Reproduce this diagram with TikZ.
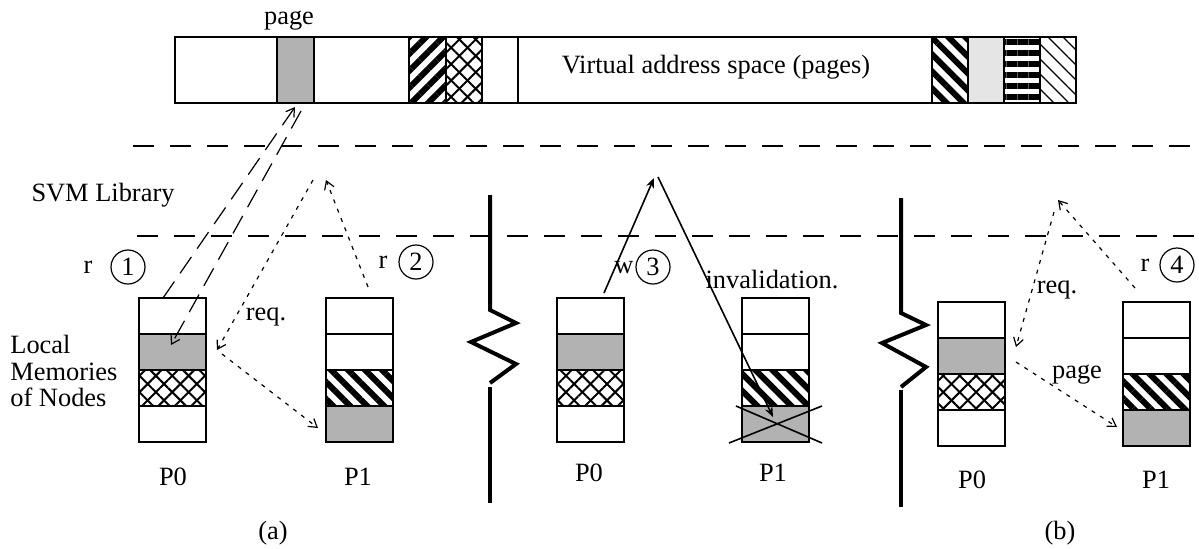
\documentclass[tikz,border=0pt]{standalone}
\usepackage{fontspec}
\setmainfont{Liberation Serif}
\usetikzlibrary{patterns.meta,arrows.meta}
\definecolor{pgray}{gray}{0.70}
\definecolor{lgray}{gray}{0.90}
\tikzset{
  blank/.style={},
  grayc/.style={fill=pgray},
  lgrayc/.style={fill=lgray},
  xhatch/.style={pattern={Lines[angle=45,distance=5.8pt,line width=1pt]},
     postaction={pattern={Lines[angle=-45,distance=5.8pt,line width=1pt]}}},
  thickne/.style={pattern={Lines[angle=45,distance=6pt,line width=3pt]}},
  thicknw/.style={pattern={Lines[angle=-45,distance=6pt,line width=3pt]}},
  hstripes/.style={pattern={Lines[angle=0,distance=5.5pt,line width=2.6pt]}},
  thinnw/.style={pattern={Lines[angle=-45,distance=5.3pt,line width=0.6pt]}},
  box/.style={draw,line width=0.6pt},
  hdash/.style={line width=0.7pt,dash pattern=on 10.5pt off 8pt},
  longdash/.style={line width=0.6pt,dash pattern=on 10pt off 5pt,-{Straight Barb[length=4pt,width=5pt]}},
  dotarrow/.style={line width=0.6pt,dash pattern=on 2pt off 3pt,-{Straight Barb[length=4pt,width=5pt]}},
  solidarrow/.style={line width=0.8pt,-{Stealth[length=5pt,width=4pt]}},
  zig/.style={line width=2pt},
  lbl/.style={inner sep=0pt},
  num/.style={draw,circle,line width=0.6pt,minimum size=17pt,inner sep=0pt},
}
\newcommand\memcol[7]{%
  \path[#4] (#2,#3) rectangle ++(67,36);
  \path[#5] (#2,#3+36) rectangle ++(67,36);
  \path[#6] (#2,#3+72) rectangle ++(67,36);
  \path[#7] (#2,#3+108) rectangle ++(67,36);
  \coordinate (#1) at (#2,#3);
  \draw[box] (#2,#3) rectangle ++(67,144);
  \draw[box] (#2,#3+36) -- ++(67,0) (#2,#3+72) -- ++(67,0) (#2,#3+108) -- ++(67,0);
}
\begin{document}
\begin{tikzpicture}[x=0.5pt,y=-0.5pt,font=\fontsize{13.2}{13.25}\selectfont]
\useasboundingbox (0,0) rectangle (1199,548);
% virtual address space bar
\path[grayc] (277,37) rectangle (314,103);
\path[thickne] (409,37) rectangle (446,103);
\path[xhatch] (446,37) rectangle (482,103);
\path[thicknw] (932,37) rectangle (968,103);
\path[lgrayc] (968,37) rectangle (1004,103);
\path[hstripes] (1004,37) rectangle (1040,103);
\path[thinnw] (1040,37) rectangle (1076,103);
\draw[line width=0.7pt] (175,37) rectangle (1076,103);
\foreach \xx in {277,314,409,446,482,518,932,968,1004,1040}
  \draw[line width=0.7pt] (\xx,37) -- (\xx,103);
\node[lbl] (vas) at (716,67) {Virtual address space (pages)};
\node[lbl] (pagetop) at (289,21) {page};
% dashed boundaries
\coordinate (h1a) at (133,146); \coordinate (h1b) at (1199,146);
\coordinate (h2a) at (137,236); \coordinate (h2b) at (1199,236);
\draw[hdash] (h1a) -- (h1b);
\draw[hdash] (h2a) -- (h2b);
\node[lbl] (svm) at (103,195) {SVM Library};
\node[lbl,align=left,anchor=west] (lm) at (10,371) {Local\\Memories\\of Nodes};
% columns
\memcol{aP0}{139}{298}{blank}{grayc}{xhatch}{blank}
\memcol{aP1}{326}{298}{blank}{blank}{thicknw}{grayc}
\memcol{mP0}{557}{298}{blank}{grayc}{xhatch}{blank}
\memcol{mP1}{742}{298}{blank}{blank}{thicknw}{grayc}
\memcol{bP0}{938}{302}{blank}{grayc}{xhatch}{blank}
\memcol{bP1}{1123}{302}{blank}{blank}{thicknw}{grayc}
\node[lbl] (laP0) at (173,477) {P0};
\node[lbl] (laP1) at (358,477) {P1};
\node[lbl] (lmP0) at (589,473) {P0};
\node[lbl] (lmP1) at (773,473) {P1};
\node[lbl] (lbP0) at (972,480) {P0};
\node[lbl] (lbP1) at (1156,480) {P1};
\node[lbl] (capa) at (273,533) {(a)};
\node[lbl] (capb) at (1060,533) {(b)};
% step labels
\node[lbl] (r1) at (88,267) {r};
\node[num] (c1) at (128,267) {1};
\node[lbl] (r2) at (383,262) {r};
\node[num] (c2) at (416,262) {2};
\node[lbl] (w3) at (624,268) {w};
\node[num] (c3) at (653,267) {3};
\node[lbl] (r4) at (1145,265) {r};
\node[num] (c4) at (1177,265) {4};
\node[lbl] (inv) at (772,280) {invalidation.};
\node[lbl] (reqa) at (266,317) {req.};
\node[lbl] (reqb) at (1057,290) {req.};
\node[lbl] (pageb) at (1077,375) {page};
% (a) page transfer
\coordinate (A1s) at (163,298); \coordinate (A1e) at (295,107);
\coordinate (A2s) at (301,111); \coordinate (A2e) at (171,345);
\draw[longdash] (A1s) -- (A1e);
\draw[longdash] (A2s) -- (A2e);
% (a) dotted
\coordinate (d1s) at (368,287); \coordinate (d1e) at (326,180);
\coordinate (d2s) at (313,180); \coordinate (d2e) at (217,350);
\coordinate (d3s) at (222,354); \coordinate (d3e) at (318,428);
\draw[dotarrow] (d1s) -- (d1e);
\draw[dotarrow] (d2s) -- (d2e);
\draw[dotarrow] (d3s) -- (d3e);
% middle solid arrows
\coordinate (s1s) at (604,293); \coordinate (s1e) at (654,178);
\coordinate (s2s) at (658,177); \coordinate (s2e) at (773,417);
\draw[solidarrow] (s1s) -- (s1e);
\draw[solidarrow] (s2s) -- (s2e);
% cross
\coordinate (x1a) at (736,406); \coordinate (x1b) at (822,443);
\coordinate (x2a) at (729,443); \coordinate (x2b) at (822,406);
\draw[line width=0.8pt] (x1a) -- (x1b);
\draw[line width=0.8pt] (x2a) -- (x2b);
% (b) dotted
\coordinate (e1s) at (1135,288); \coordinate (e1e) at (1058,200);
\coordinate (e2s) at (1054,212); \coordinate (e2e) at (1016,347);
\coordinate (e3s) at (1016,362); \coordinate (e3e) at (1117,427);
\draw[dotarrow] (e1s) -- (e1e);
\draw[dotarrow] (e2s) -- (e2e);
\draw[dotarrow] (e3s) -- (e3e);
% separators
\draw[zig] (490,195) -- (490,310) -- (516,323) -- (471,342) -- (516,364) -- (490,383);
\draw[zig] (490,387) -- (490,503);
\draw[zig] (901,198) -- (901,313) -- (926,325) -- (882,343) -- (926,367) -- (901,387);
\draw[zig] (901,390) -- (901,507);
\end{tikzpicture}
\end{document}
